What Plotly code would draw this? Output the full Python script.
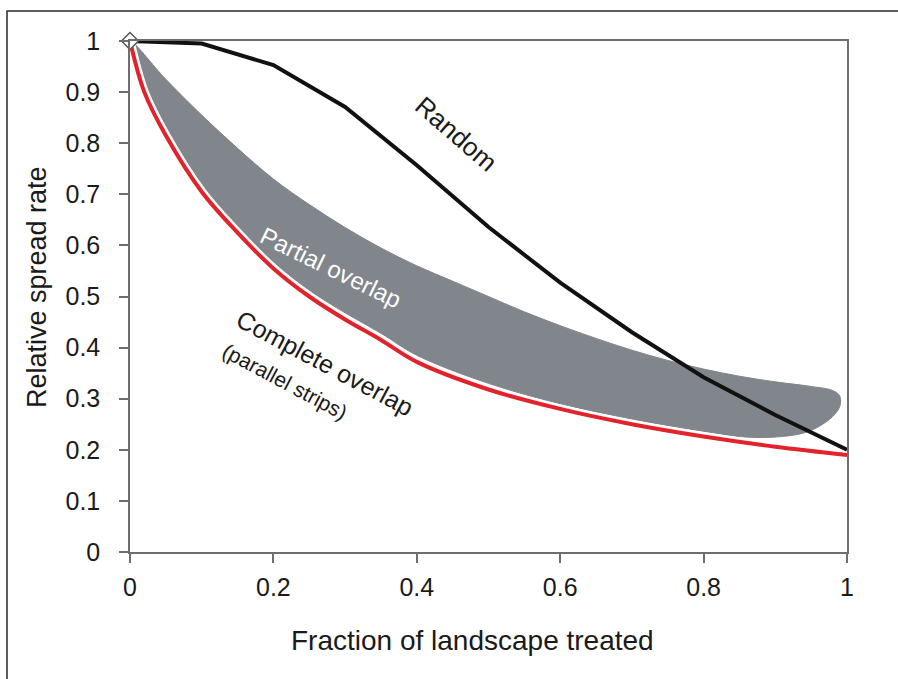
import plotly.graph_objects as go

# ---- data ----
random_x = [0, 0.1, 0.2, 0.3, 0.4, 0.5, 0.6, 0.7, 0.8, 0.9, 1.0]
random_y = [1.0, 0.995, 0.953, 0.871, 0.757, 0.636, 0.527, 0.43, 0.342, 0.268, 0.2]

complete_x = [0, 0.02, 0.05, 0.1, 0.15, 0.2, 0.25, 0.3, 0.35, 0.4, 0.5, 0.6, 0.7, 0.8, 0.9, 1.0]
complete_y = [1.0, 0.9, 0.815, 0.705, 0.625, 0.555, 0.5, 0.455, 0.415, 0.372, 0.318, 0.28, 0.25, 0.226, 0.206, 0.19]

partial_upper_x = [0, 0.05, 0.1, 0.15, 0.2, 0.25, 0.3, 0.35, 0.4, 0.45, 0.5, 0.55, 0.6, 0.65, 0.7, 0.75, 0.8, 0.85, 0.9, 0.95, 0.98]
partial_upper_y = [1.0, 0.925, 0.855, 0.79, 0.73, 0.68, 0.635, 0.595, 0.56, 0.53, 0.5, 0.47, 0.443, 0.418, 0.395, 0.375, 0.358, 0.344, 0.333, 0.324, 0.316]
partial_end_x = [0.99, 0.99, 0.98, 0.96, 0.94, 0.91, 0.88]
partial_end_y = [0.305, 0.285, 0.265, 0.245, 0.233, 0.226, 0.224]
partial_lower_x = [0.85, 0.8, 0.7, 0.6, 0.5, 0.4, 0.35, 0.3, 0.25, 0.2, 0.15, 0.1, 0.05, 0.02, 0]
partial_lower_y = [0.226, 0.236, 0.26, 0.29, 0.33, 0.385, 0.428, 0.468, 0.512, 0.567, 0.637, 0.718, 0.83, 0.915, 1.0]

x_ticks = [0, 0.2, 0.4, 0.6, 0.8, 1]
x_ticklabels = ["0", "0.2", "0.4", "0.6", "0.8", "1"]
y_ticks = [0, 0.1, 0.2, 0.3, 0.4, 0.5, 0.6, 0.7, 0.8, 0.9, 1]
y_ticklabels = ["0", "0.1", "0.2", "0.3", "0.4", "0.5", "0.6", "0.7", "0.8", "0.9", "1"]

FONT = "Liberation Sans, Arial, Helvetica, sans-serif"
TXT = "#1a1a1a"
AX = "#6e6e6e"

fig = go.Figure()

band_x = partial_upper_x + partial_end_x + partial_lower_x
band_y = partial_upper_y + partial_end_y + partial_lower_y
fig.add_trace(go.Scatter(x=band_x, y=band_y, mode="lines", fill="toself",
                         fillcolor="#80868c", line=dict(color="#80868c", width=1, shape="spline"),
                         hoverinfo="skip", showlegend=False))

# white halo beneath red line
fig.add_trace(go.Scatter(x=complete_x, y=complete_y, mode="lines",
                         line=dict(color="white", width=9, shape="spline"),
                         hoverinfo="skip", showlegend=False))
fig.add_trace(go.Scatter(x=complete_x, y=complete_y, mode="lines",
                         line=dict(color="#e3222b", width=4, shape="spline"),
                         showlegend=False))
fig.add_trace(go.Scatter(x=random_x, y=random_y, mode="lines",
                         line=dict(color="#111111", width=4),
                         showlegend=False))
fig.add_trace(go.Scatter(x=[0], y=[1], mode="markers",
                         marker=dict(symbol="diamond", size=13, color="white",
                                     line=dict(color="#555555", width=1.5)),
                         cliponaxis=False, showlegend=False))

annos = [
    dict(x=0.455, y=0.818, text="Random", textangle=41, font=dict(size=26, color=TXT)),
    dict(x=0.28, y=0.556, text="Partial overlap", textangle=26, font=dict(size=24, color="white")),
    dict(x=0.272, y=0.37, text="Complete overlap", textangle=28, font=dict(size=25, color=TXT)),
    dict(x=0.216, y=0.333, text="(parallel strips)", textangle=28, font=dict(size=21, color=TXT)),
    dict(x=1.012, y=0.217, text="0.2", xanchor="left", font=dict(size=25, color=TXT)),
]
for a in annos:
    a.setdefault("xanchor", "center")
    fig.add_annotation(xref="x", yref="y", showarrow=False, yanchor="middle", **a)

# axis titles as annotations (pixel-placed)
fig.add_annotation(xref="paper", yref="paper", x=(472 - 130) / 717, y=(552 - 640) / 511,
                   text="Fraction of landscape treated", showarrow=False,
                   font=dict(size=28, color=TXT, family=FONT), xanchor="center", yanchor="middle")
fig.add_annotation(xref="paper", yref="paper", x=(37 - 130) / 717, y=(552 - 287) / 511,
                   text="Relative spread rate", showarrow=False, textangle=-90,
                   font=dict(size=27, color=TXT, family=FONT), xanchor="center", yanchor="middle")

# outer frame
fig.add_shape(type="rect", xref="paper", yref="paper",
              x0=(7 - 130) / 717, x1=(905 - 130) / 717,
              y0=(552 - 690) / 511, y1=(552 - 11) / 511,
              line=dict(color="#2a2a2a", width=1.5), layer="below")

fig.update_xaxes(range=[0, 1], tickvals=x_ticks, ticktext=x_ticklabels,
                 showline=True, linecolor=AX, linewidth=1.5, mirror=True,
                 ticks="outside", ticklen=9, tickcolor=AX, tickwidth=1.5,
                 showgrid=False, zeroline=False, automargin=False, ticklabelstandoff=3,
                 tickfont=dict(size=25, color=TXT, family=FONT))
fig.update_yaxes(range=[0, 1], tickvals=y_ticks, ticktext=y_ticklabels,
                 showline=True, linecolor=AX, linewidth=1.5, mirror=True,
                 ticks="outside", ticklen=9, tickcolor=AX, tickwidth=1.5,
                 showgrid=False, zeroline=False, automargin=False, ticklabelstandoff=14,
                 tickfont=dict(size=25, color=TXT, family=FONT))

fig.update_layout(width=898, height=679,
                  margin=dict(l=130, r=51, t=41, b=127),
                  paper_bgcolor="white", plot_bgcolor="white",
                  font=dict(family=FONT, color=TXT),
                  showlegend=False)

fig.write_html("out.html", config={"displayModeBar": False},
               post_script="document.body.style.margin='0px';document.body.style.overflow='hidden';")
